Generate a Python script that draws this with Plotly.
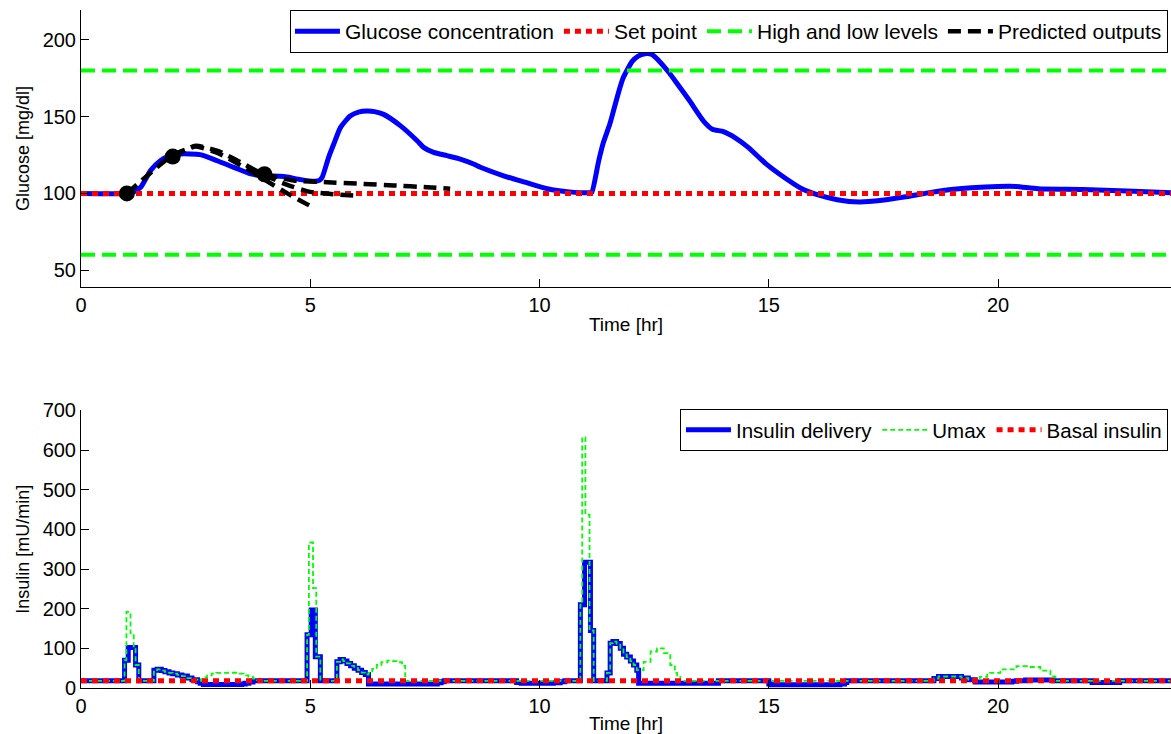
import plotly.graph_objects as go

# ---- Glucose panel data (time in hours, glucose in mg/dl) ----
glucose_t = [0, 1.0, 1.15, 1.3, 1.52, 1.73, 1.95, 2.17, 2.6, 2.97, 3.33, 3.7, 3.98,
             4.42, 4.79, 5.1, 5.2, 5.26, 5.4, 5.51, 5.66, 5.87, 6.05, 6.24, 6.4, 6.6,
             6.97, 7.33, 7.47, 7.69, 7.98, 8.27, 8.56, 8.71, 9.2, 9.68, 10.17, 10.65,
             11.1, 11.14, 11.29, 11.39, 11.53, 11.63, 11.73, 11.82, 12.02, 12.15,
             12.3, 12.45, 12.6, 12.8, 12.99, 13.28, 13.58, 13.77, 14.01, 14.26,
             14.55, 14.94, 15.33, 15.72, 16.11, 16.49, 16.98, 17.47, 17.95, 18.44,
             18.93, 19.42, 20.0, 20.39, 20.87, 21.85, 22.82, 23.79]
glucose_v = [100, 100, 101, 104, 115, 121.3, 124.6, 125.7, 125.3, 121.3, 117, 112.7,
             111.5, 111, 109, 108, 108.5, 110.5, 123.5, 132, 143, 150.5, 153, 153.7,
             153.3, 151.5, 144, 134.3, 130, 126.7, 124.6, 122.4, 119.2, 117, 111.6,
             107.3, 103, 101, 100.5, 100.8, 121.3, 133, 145, 155.8, 166.6, 175, 186,
             189.5, 191, 190.5, 186.5, 179.6, 172, 160, 147, 141.8, 140.3, 136.4, 130,
             119.2, 110.5, 103, 98.7, 95.9, 94.4, 95.5, 97.6, 100.2, 102.4, 103.7,
             104.5, 104.5, 103, 102.6, 101.5, 100.4]

set_point = 100
high_level = 180
low_level = 60
time_span = [0, 24]

# Predictions made at t = 1, 2 and 4 hr over a 4 hr horizon
pred1_t = [1, 1.5, 2, 2.5, 3, 3.5, 4, 4.5, 5.05]
pred1_v = [100, 113, 125, 130.5, 126, 118, 109, 100, 91]
pred2_t = [2, 2.5, 3, 3.5, 4, 4.5, 5, 5.5, 6.06]
pred2_v = [124, 131, 127.5, 120, 112, 105.5, 101, 99.5, 98.5]
pred3_t = [4, 4.64, 5.37, 6.09, 6.82, 7.55, 8.05]
pred3_v = [112.5, 108.4, 107.3, 106.3, 105.2, 104, 103]
pred_start_t = [1, 2, 4]
pred_start_v = [100, 124, 112.5]

# ---- Insulin panel data (time in hours, insulin in mU/min) ----
basal_insulin = 18

delivery_t = [0, 0.95, 1.03, 1.19, 1.26, 1.59, 1.66, 1.75, 1.83, 1.92, 2.0, 2.1, 2.2,
              2.32, 2.42, 2.54, 2.6, 2.67, 3.5, 3.58, 3.66, 3.75, 4.93, 5.02, 5.11,
              5.22, 5.58, 5.65, 5.72, 5.8, 5.88, 5.96, 6.04, 6.12, 6.2, 6.27, 7.77,
              7.85, 7.92, 9.5, 9.6, 10.3, 10.45, 10.55, 10.89, 10.98, 11.11, 11.18,
              11.47, 11.54, 11.6, 11.68, 11.76, 11.83, 11.9, 11.98, 12.05, 12.12,
              12.16, 13.9, 15.0, 15.05, 16.55, 16.65, 16.7, 18.6, 18.7, 19.0, 19.2,
              19.35, 19.5, 20.3, 20.4, 20.6, 21.1, 21.2, 22.05, 22.65, 24]
delivery_v = [18, 70, 102, 58, 18, 45, 47, 44, 41, 38, 36, 33, 30, 25, 21, 16, 12, 9,
              10, 12, 15, 18, 134, 197, 79, 18, 66, 72, 68, 62, 56, 50, 45, 39, 34, 10,
              13, 16, 18, 14, 12, 13, 16, 18, 210, 317, 145, 18, 38, 113, 117, 112,
              100, 85, 78, 68, 58, 45, 12, 18, 10, 8, 10, 14, 18, 24, 29, 29, 25, 21,
              15, 17, 18, 20, 20, 18, 14, 18, 18]

umax_t = [0, 0.95, 0.99, 1.08, 1.15, 1.19, 1.26, 1.59, 1.66, 1.75, 1.83, 1.92, 2.0,
          2.1, 2.2, 2.32, 2.42, 2.54, 2.62, 2.67, 2.75, 2.85, 2.95, 3.2, 3.4, 3.55,
          3.65, 3.75, 3.84, 3.9, 4.93, 4.97, 5.06, 5.13, 5.22, 5.58, 5.65, 5.72, 5.8,
          5.88, 5.96, 6.04, 6.12, 6.2, 6.27, 6.35, 6.45, 6.55, 6.68, 6.8, 6.9, 7.0,
          7.07, 10.89, 10.93, 11.0, 11.09, 11.18, 11.47, 11.54, 11.6, 11.68, 11.76,
          11.83, 11.9, 11.98, 12.05, 12.12, 12.16, 12.27, 12.42, 12.56, 12.71, 12.85,
          12.95, 13.0, 13.07, 18.6, 18.7, 19.0, 19.2, 19.35, 19.5, 19.6, 19.76, 20.05,
          20.4, 20.63, 20.92, 21.14, 21.25, 24]
umax_v = [18, 70, 192, 138, 102, 58, 18, 45, 47, 44, 41, 38, 36, 33, 30, 25, 21, 18,
          22, 27, 32, 36, 38, 38.5, 36, 32, 28, 24, 20, 18, 134, 367, 252, 79, 18, 66,
          72, 68, 62, 56, 50, 45, 39, 34, 38, 48, 58, 65, 69, 68, 65, 56, 18, 210,
          632, 437, 145, 18, 38, 113, 117, 112, 100, 85, 78, 68, 58, 45, 45, 66, 92,
          100, 88, 58, 38, 28, 18, 24, 29, 29, 25, 21, 22, 28, 38, 47, 55, 53, 44,
          29, 18, 18]

glucose_ticks = [50, 100, 150, 200]
insulin_ticks = [0, 100, 200, 300, 400, 500, 600, 700]
time_ticks = [0, 5, 10, 15, 20]

FONT = "Liberation Sans, Arial, Helvetica, sans-serif"
BLUE, RED, GREEN, BLACK = "#0000ff", "#ff0000", "#00ff00", "#000000"

fig = go.Figure()

# Top panel: glucose
fig.add_trace(go.Scatter(x=glucose_t, y=glucose_v, mode="lines", name="Glucose concentration",
                         line=dict(color=BLUE, width=5, shape="spline", smoothing=0.6),
                         legend="legend"))
fig.add_trace(go.Scatter(x=time_span, y=[set_point, set_point], mode="lines", name="Set point",
                         line=dict(color=RED, width=5, dash="6px,5px"), legend="legend"))
fig.add_trace(go.Scatter(x=time_span, y=[high_level, high_level], mode="lines",
                         name="High and low levels", legendgroup="hl",
                         line=dict(color=GREEN, width=4, dash="14px,7px"), legend="legend"))
fig.add_trace(go.Scatter(x=time_span, y=[low_level, low_level], mode="lines",
                         name="High and low levels", legendgroup="hl", showlegend=False,
                         line=dict(color=GREEN, width=4, dash="14px,7px")))
for i, (pt, pv) in enumerate([(pred1_t, pred1_v), (pred2_t, pred2_v), (pred3_t, pred3_v)]):
    fig.add_trace(go.Scatter(x=pt, y=pv, mode="lines", name="Predicted outputs",
                             legendgroup="pred", showlegend=(i == 0), legend="legend",
                             line=dict(color=BLACK, width=4.5, dash="13px,7px",
                                       shape="spline", smoothing=0.5)))
fig.add_trace(go.Scatter(x=pred_start_t, y=pred_start_v, mode="markers", showlegend=False,
                         marker=dict(color=BLACK, size=16), hoverinfo="skip"))

# Bottom panel: insulin
fig.add_trace(go.Scatter(x=delivery_t, y=delivery_v, mode="lines", name="Insulin delivery",
                         line=dict(color=BLUE, width=5, shape="hv"),
                         xaxis="x2", yaxis="y2", legend="legend2"))
fig.add_trace(go.Scatter(x=umax_t, y=umax_v, mode="lines", name="Umax",
                         line=dict(color=GREEN, width=1.8, dash="5px,3px", shape="hv"),
                         xaxis="x2", yaxis="y2", legend="legend2"))
fig.add_trace(go.Scatter(x=time_span, y=[basal_insulin, basal_insulin], mode="lines",
                         name="Basal insulin", line=dict(color=RED, width=5, dash="6px,5px"),
                         xaxis="x2", yaxis="y2", legend="legend2"))

axis_common = dict(showline=True, linecolor=BLACK, linewidth=1, ticks="inside", ticklen=8,
                   tickcolor=BLACK, showgrid=False, zeroline=False, mirror=False,
                   tickfont=dict(family=FONT, size=20, color=BLACK))
x_range = [0, 23.77]

legend_common = dict(orientation="h", xanchor="right", yanchor="top", x=0.9972,
                     bgcolor="white", bordercolor=BLACK, borderwidth=1, itemwidth=45,
                     tracegroupgap=0, itemclick=False)

fig.update_layout(
    width=1171, height=734,
    margin=dict(l=81, r=0, t=10, b=46),
    paper_bgcolor="white", plot_bgcolor="white",
    font=dict(family=FONT, color=BLACK),
    xaxis=dict(axis_common, range=x_range, tickvals=time_ticks, anchor="y",
               domain=[0, 1],
               title=dict(text="Time [hr]", font=dict(family=FONT, size=19), standoff=2)),
    yaxis=dict(axis_common, range=[39, 219.5], tickvals=glucose_ticks, anchor="x",
               domain=[0.5914, 1],
               title=dict(text="Glucose [mg/dl]", font=dict(family=FONT, size=18), standoff=8)),
    xaxis2=dict(axis_common, range=x_range, tickvals=time_ticks, anchor="y2",
                domain=[0, 1],
                title=dict(text="Time [hr]", font=dict(family=FONT, size=19), standoff=2)),
    yaxis2=dict(axis_common, range=[0, 700], tickvals=insulin_ticks, anchor="x2",
                domain=[0, 0.4093],
                title=dict(text="Insulin [mU/min]", font=dict(family=FONT, size=18), standoff=8)),
    legend=dict(legend_common, y=1.0,
                font=dict(family=FONT, size=21, color=BLACK)),
    legend2=dict(legend_common, y=0.4115,
                 font=dict(family=FONT, size=20.5, color=BLACK)),
    showlegend=True,
)

fig.write_html("out.html")
